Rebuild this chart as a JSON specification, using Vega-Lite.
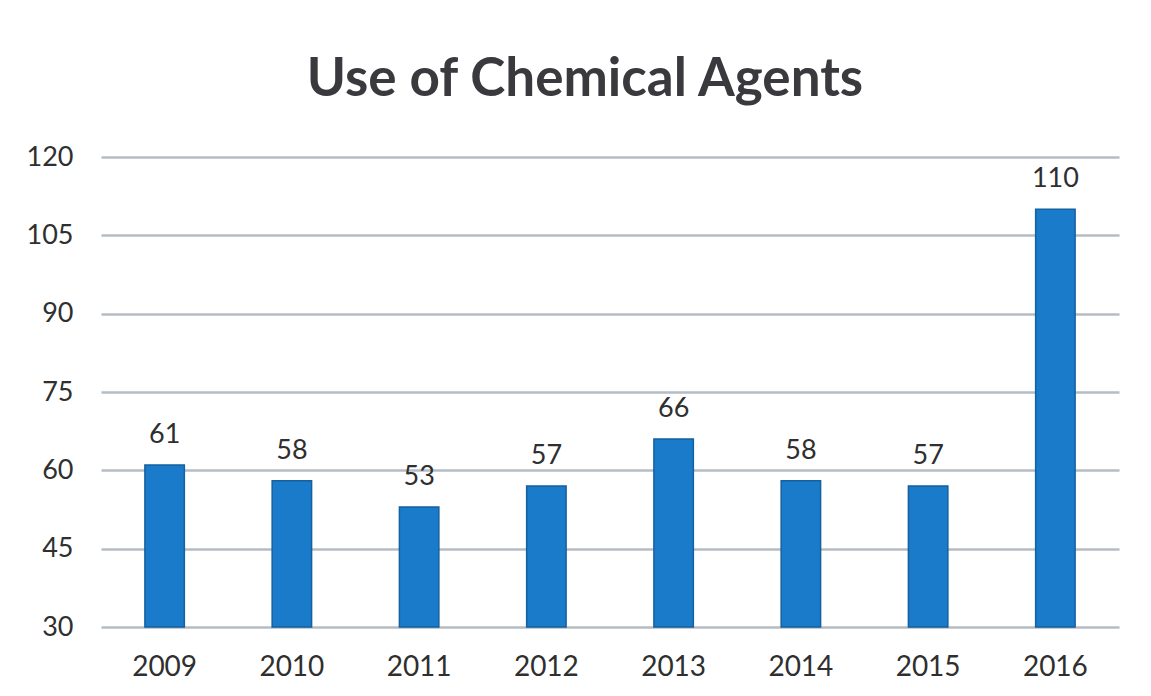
{
  "$schema": "https://vega.github.io/schema/vega-lite/v6.json",
  "autosize": "none",
  "width": 1018,
  "height": 470,
  "padding": {"left": 101, "top": 157, "right": 32, "bottom": 69},
  "background": "white",
  "title": {
    "text": "Use of Chemical Agents",
    "font": "Lato",
    "fontSize": 53,
    "fontWeight": "bold",
    "color": "#3a3a3e",
    "anchor": "middle",
    "dx": -25,
    "offset": 36
  },
  "data": {
    "values": [
      {"year": "2009", "value": 61},
      {"year": "2010", "value": 58},
      {"year": "2011", "value": 53},
      {"year": "2012", "value": 57},
      {"year": "2013", "value": 66},
      {"year": "2014", "value": 58},
      {"year": "2015", "value": 57},
      {"year": "2016", "value": 110}
    ]
  },
  "encoding": {
    "x": {
      "field": "year",
      "type": "ordinal",
      "scale": {"paddingInner": 0.69, "paddingOuter": 0.345},
      "axis": {
        "title": null,
        "labelAngle": 0,
        "labelFont": "Lato",
        "labelFontSize": 28,
        "labelColor": "#2f2f2f",
        "labelPadding": 26,
        "ticks": false,
        "domain": false
      }
    },
    "y": {
      "field": "value",
      "type": "quantitative",
      "scale": {"domain": [30, 120], "nice": false, "zero": false},
      "axis": {
        "title": null,
        "values": [30, 45, 60, 75, 90, 105, 120],
        "labelFont": "Lato",
        "labelFontSize": 27,
        "labelColor": "#2f2f2f",
        "labelPadding": 28,
        "ticks": false,
        "domain": false,
        "gridColor": "#b4bcc4",
        "gridWidth": 2.5,
        "gridOpacity": 1
      }
    }
  },
  "layer": [
    {
      "mark": {"type": "bar", "color": "#1a7bcb", "stroke": "#15609f", "strokeWidth": 1.5, "clip": false},
      "encoding": {"y2": {"datum": 30}}
    },
    {
      "mark": {"type": "text", "baseline": "alphabetic", "dy": -22, "font": "Lato", "fontSize": 27, "color": "#2f2f2f"},
      "encoding": {"text": {"field": "value", "type": "quantitative"}}
    }
  ],
  "config": {"view": {"stroke": null}}
}
